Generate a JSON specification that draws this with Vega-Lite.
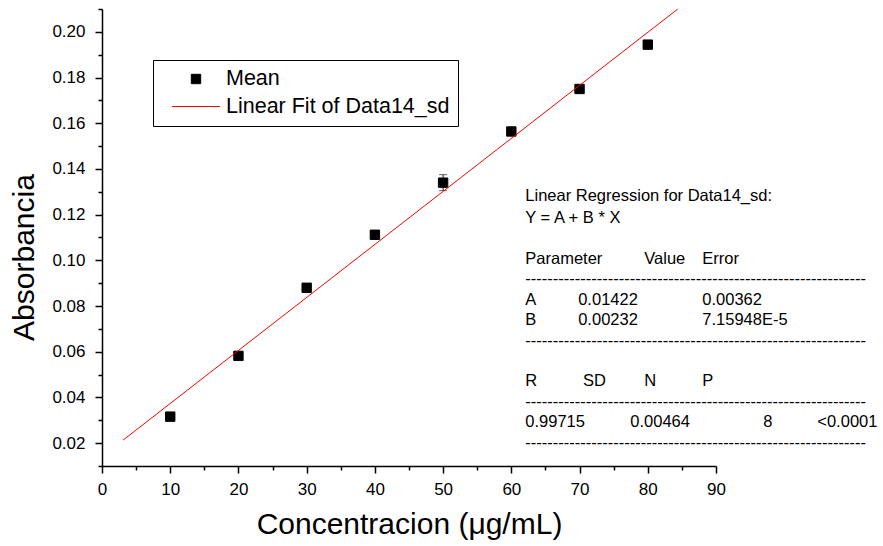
{
  "$schema": "https://vega.github.io/schema/vega-lite/v6.json",
  "width": 614,
  "height": 457,
  "autosize": {"type": "none"},
  "padding": {"left": 102, "top": 9, "right": 167, "bottom": 80},
  "background": "white",
  "config": {
    "view": {"stroke": null},
    "font": "Liberation Sans",
    "axis": {
      "grid": false,
      "domainColor": "black",
      "domainWidth": 1.5,
      "tickColor": "black",
      "tickWidth": 1.5,
      "labelColor": "black",
      "labelFont": "Liberation Sans",
      "labelFontSize": 17,
      "labelOverlap": false,
      "labelFlush": false,
      "titleColor": "black",
      "titleFont": "Liberation Sans",
      "titleFontWeight": "normal",
      "titleFontSize": 30
    },
    "legend": {
      "orient": "none",
      "legendX": 51,
      "legendY": 51,
      "padding": 8.25,
      "strokeColor": "black",
      "fillColor": "white",
      "labelFont": "Liberation Sans",
      "labelFontSize": 21.5,
      "labelColor": "black",
      "labelLimit": 0,
      "symbolSize": 88,
      "symbolStrokeWidth": 1,
      "symbolOffset": 24,
      "labelOffset": 19.25,
      "rowPadding": 4.5,
      "cornerRadius": 0
    }
  },
  "resolve": {"axis": {"x": "independent", "y": "independent"}},
  "datasets": {
    "means": [
      {"conc": 10, "mean": 0.0316, "sd": 0.0003, "series": "Mean"},
      {"conc": 20, "mean": 0.0582, "sd": 0.0003, "series": "Mean"},
      {"conc": 30, "mean": 0.0880, "sd": 0.0003, "series": "Mean"},
      {"conc": 40, "mean": 0.1112, "sd": 0.0003, "series": "Mean"},
      {"conc": 50, "mean": 0.1340, "sd": 0.0035, "series": "Mean"},
      {"conc": 60, "mean": 0.1564, "sd": 0.0012, "series": "Mean"},
      {"conc": 70, "mean": 0.1750, "sd": 0.0008, "series": "Mean"},
      {"conc": 80, "mean": 0.1944, "sd": 0.0016, "series": "Mean"}
    ],
    "fit": [
      {"conc": 3.08, "fit": 0.0213, "series": "Linear Fit of Data14_sd"},
      {"conc": 84.4, "fit": 0.2100, "series": "Linear Fit of Data14_sd"}
    ]
  },
  "layer": [
    {
      "data": {"name": "means"},
      "mark": {"type": "errorbar", "ticks": {"size": 8, "color": "#222"}, "color": "#222", "thickness": 1},
      "encoding": {
        "x": {
          "field": "conc", "type": "quantitative",
          "scale": {"domain": [0, 90], "nice": false, "zero": false},
          "axis": null
        },
        "y": {
          "field": "mean", "type": "quantitative",
          "scale": {"domain": [0.01, 0.21], "nice": false, "zero": false},
          "axis": null
        },
        "yError": {"field": "sd"}
      }
    },
    {
      "data": {"name": "means"},
      "mark": {"type": "point", "filled": true, "size": 88, "opacity": 1, "strokeWidth": 1},
      "encoding": {
        "x": {
          "field": "conc", "type": "quantitative",
          "axis": {
            "orient": "bottom",
            "values": [0, 10, 20, 30, 40, 50, 60, 70, 80, 90],
            "tickSize": 7,
            "labelPadding": 8,
            "title": "Concentracion (μg/mL)",
            "titleBaseline": "alphabetic",
            "titleY": 67
          }
        },
        "y": {
          "field": "mean", "type": "quantitative",
          "axis": {
            "orient": "left",
            "values": [0.02, 0.04, 0.06, 0.08, 0.10, 0.12, 0.14, 0.16, 0.18, 0.20],
            "format": ".2f",
            "tickSize": 7,
            "labelPadding": 10,
            "title": "Absorbancia",
            "titleAngle": -90,
            "titleAlign": "center",
            "titleBaseline": "alphabetic",
            "titleX": -69,
            "titleY": 248
          }
        },
        "fill": {
          "field": "series", "type": "nominal", "title": null,
          "scale": {"domain": ["Mean", "Linear Fit of Data14_sd"], "range": ["black", "red"]}
        },
        "stroke": {
          "field": "series", "type": "nominal", "title": null,
          "scale": {"domain": ["Mean", "Linear Fit of Data14_sd"], "range": ["black", "red"]}
        },
        "shape": {
          "field": "series", "type": "nominal", "title": null,
          "scale": {"domain": ["Mean", "Linear Fit of Data14_sd"], "range": ["square", "M-5.1,0H5.1"]}
        }
      }
    },
    {
      "data": {"name": "fit"},
      "mark": {"type": "line", "strokeWidth": 1},
      "encoding": {
        "x": {
          "field": "conc", "type": "quantitative",
          "axis": {
            "orient": "bottom",
            "values": [5, 15, 25, 35, 45, 55, 65, 75, 85],
            "tickSize": 4,
            "labels": false,
            "domain": false,
            "title": null
          }
        },
        "y": {
          "field": "fit", "type": "quantitative",
          "axis": {
            "orient": "left",
            "values": [0.01, 0.03, 0.05, 0.07, 0.09, 0.11, 0.13, 0.15, 0.17, 0.19, 0.21],
            "tickSize": 4,
            "labels": false,
            "domain": false,
            "title": null
          }
        },
        "stroke": {"field": "series", "type": "nominal", "title": null}
      }
    },
    {
      "data": {"values": [{}]},
      "mark": {"type": "text", "text": ["Linear Regression for Data14_sd:", "Y = A + B * X"], "align": "left", "baseline": "alphabetic", "fontSize": 16.5, "lineHeight": 21.7, "color": "black"},
      "encoding": {"x": {"datum": 62.05, "type": "quantitative", "axis": null}, "y": {"datum": 0.12597, "type": "quantitative", "axis": null}}
    },
    {
      "data": {"values": [{}]},
      "mark": {"type": "text", "text": ["Parameter", "--------------------------------------------------------------", "A", "B", "--------------------------------------------------------------"], "align": "left", "baseline": "alphabetic", "fontSize": 16.5, "lineHeight": 20.4, "color": "black"},
      "encoding": {"x": {"datum": 62.05, "type": "quantitative", "axis": null}, "y": {"datum": 0.0984, "type": "quantitative", "axis": null}}
    },
    {
      "data": {"values": [{}]},
      "mark": {"type": "text", "text": ["R", "--------------------------------------------------------------", "0.99715", "--------------------------------------------------------------"], "align": "left", "baseline": "alphabetic", "fontSize": 16.5, "lineHeight": 20.4, "color": "black"},
      "encoding": {"x": {"datum": 62.05, "type": "quantitative", "axis": null}, "y": {"datum": 0.04483, "type": "quantitative", "axis": null}}
    },
    {
      "data": {"values": [{}]},
      "mark": {"type": "text", "text": ["0.01422", "0.00232"], "align": "left", "baseline": "alphabetic", "fontSize": 16.5, "lineHeight": 20.4, "color": "black"},
      "encoding": {"x": {"datum": 69.8, "type": "quantitative", "axis": null}, "y": {"datum": 0.08055, "type": "quantitative", "axis": null}}
    },
    {
      "data": {"values": [{}]},
      "mark": {"type": "text", "text": "SD", "align": "left", "baseline": "alphabetic", "fontSize": 16.5, "color": "black"},
      "encoding": {"x": {"datum": 70.5, "type": "quantitative", "axis": null}, "y": {"datum": 0.04483, "type": "quantitative", "axis": null}}
    },
    {
      "data": {"values": [{}]},
      "mark": {"type": "text", "text": "Value", "align": "left", "baseline": "alphabetic", "fontSize": 16.5, "color": "black"},
      "encoding": {"x": {"datum": 79.49, "type": "quantitative", "axis": null}, "y": {"datum": 0.0984, "type": "quantitative", "axis": null}}
    },
    {
      "data": {"values": [{}]},
      "mark": {"type": "text", "text": "N", "align": "left", "baseline": "alphabetic", "fontSize": 16.5, "color": "black"},
      "encoding": {"x": {"datum": 79.49, "type": "quantitative", "axis": null}, "y": {"datum": 0.04483, "type": "quantitative", "axis": null}}
    },
    {
      "data": {"values": [{}]},
      "mark": {"type": "text", "text": "Error", "align": "left", "baseline": "alphabetic", "fontSize": 16.5, "color": "black"},
      "encoding": {"x": {"datum": 87.99, "type": "quantitative", "axis": null}, "y": {"datum": 0.0984, "type": "quantitative", "axis": null}}
    },
    {
      "data": {"values": [{}]},
      "mark": {"type": "text", "text": ["0.00362", "7.15948E-5"], "align": "left", "baseline": "alphabetic", "fontSize": 16.5, "lineHeight": 20.4, "color": "black"},
      "encoding": {"x": {"datum": 87.99, "type": "quantitative", "axis": null}, "y": {"datum": 0.08055, "type": "quantitative", "axis": null}}
    },
    {
      "data": {"values": [{}]},
      "mark": {"type": "text", "text": "P", "align": "left", "baseline": "alphabetic", "fontSize": 16.5, "color": "black"},
      "encoding": {"x": {"datum": 87.99, "type": "quantitative", "axis": null}, "y": {"datum": 0.04483, "type": "quantitative", "axis": null}}
    },
    {
      "data": {"values": [{}]},
      "mark": {"type": "text", "text": "0.00464", "align": "left", "baseline": "alphabetic", "fontSize": 16.5, "color": "black"},
      "encoding": {"x": {"datum": 77.44, "type": "quantitative", "axis": null}, "y": {"datum": 0.02698, "type": "quantitative", "axis": null}}
    },
    {
      "data": {"values": [{}]},
      "mark": {"type": "text", "text": "8", "align": "left", "baseline": "alphabetic", "fontSize": 16.5, "color": "black"},
      "encoding": {"x": {"datum": 96.93, "type": "quantitative", "axis": null}, "y": {"datum": 0.02698, "type": "quantitative", "axis": null}}
    },
    {
      "data": {"values": [{}]},
      "mark": {"type": "text", "text": "<0.0001", "align": "left", "baseline": "alphabetic", "fontSize": 16.5, "color": "black"},
      "encoding": {"x": {"datum": 104.85, "type": "quantitative", "axis": null}, "y": {"datum": 0.02698, "type": "quantitative", "axis": null}}
    }
  ]
}
